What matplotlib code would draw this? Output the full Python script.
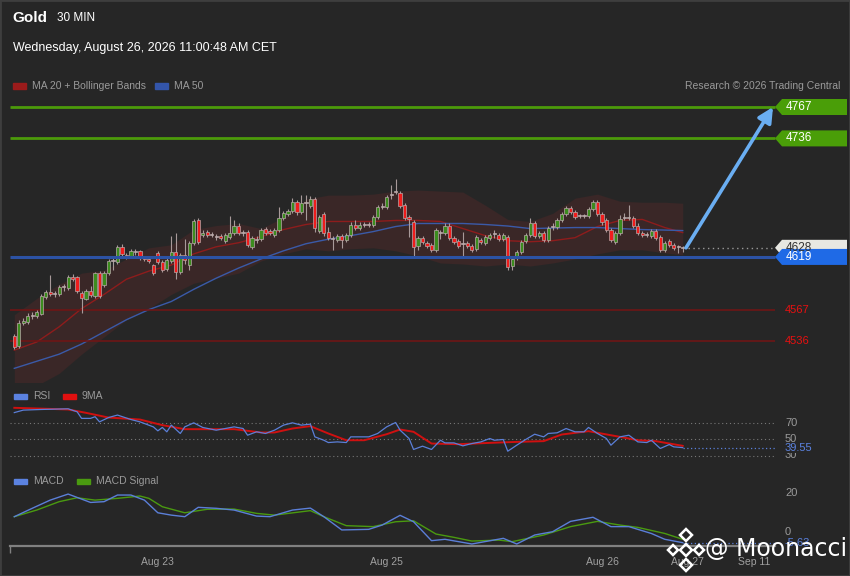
import matplotlib
matplotlib.use('Agg')
import matplotlib.pyplot as plt
from matplotlib.patches import Polygon, Rectangle
import numpy as np

plt.rcParams['font.family'] = ['Liberation Sans', 'DejaVu Sans']

# ---- candles (30 min) ----
opens = [4541, 4531, 4554, 4555, 4561, 4561, 4563, 4579, 4584, 4583,
         4582, 4589, 4588, 4599, 4599, 4583, 4577, 4585, 4580, 4603,
         4591, 4603, 4615, 4614, 4629, 4621, 4620, 4624, 4625, 4619,
         4617, 4611, 4623, 4614, 4607, 4615, 4624, 4604, 4621, 4611,
         4633, 4655, 4641, 4644, 4641, 4640, 4640, 4635, 4639, 4643,
         4650, 4643, 4644, 4629, 4637, 4637, 4647, 4645, 4641, 4646,
         4657, 4661, 4664, 4673, 4663, 4672, 4669, 4676, 4645, 4661,
         4644, 4638, 4636, 4640, 4636, 4641, 4651, 4648, 4651, 4651,
         4651, 4658, 4668, 4668, 4680, 4683, 4682, 4670, 4658, 4653,
         4630, 4638, 4633, 4631, 4626, 4643, 4643, 4650, 4638, 4635,
         4632, 4633, 4630, 4627, 4636, 4633, 4638, 4642, 4641, 4637,
         4639, 4610, 4618, 4624, 4635, 4641, 4652, 4640, 4643, 4636,
         4649, 4649, 4655, 4661, 4667, 4663, 4659, 4659, 4659, 4666,
         4673, 4661, 4655, 4646, 4634, 4643, 4657, 4657, 4657, 4650,
         4643, 4641, 4640, 4645, 4639, 4626, 4635, 4631, 4629, 4628]
closes = [4530, 4554, 4556, 4561, 4562, 4565, 4580, 4584, 4582, 4582,
          4589, 4589, 4599, 4597, 4585, 4578, 4585, 4581, 4603, 4580,
          4603, 4615, 4615, 4629, 4622, 4619, 4625, 4624, 4618, 4617,
          4615, 4603, 4614, 4606, 4616, 4624, 4604, 4621, 4616, 4633,
          4654, 4634, 4643, 4641, 4642, 4639, 4638, 4641, 4643, 4650,
          4643, 4644, 4631, 4638, 4636, 4646, 4643, 4643, 4646, 4657,
          4662, 4664, 4673, 4663, 4672, 4672, 4676, 4648, 4658, 4643,
          4638, 4637, 4640, 4636, 4641, 4651, 4648, 4651, 4651, 4651,
          4658, 4668, 4669, 4678, 4681, 4684, 4669, 4657, 4656, 4629,
          4638, 4634, 4630, 4626, 4646, 4643, 4650, 4638, 4634, 4630,
          4632, 4630, 4626, 4639, 4634, 4639, 4641, 4642, 4637, 4641,
          4609, 4617, 4624, 4634, 4641, 4652, 4640, 4643, 4636, 4648,
          4649, 4655, 4661, 4667, 4663, 4658, 4659, 4659, 4666, 4673,
          4661, 4653, 4646, 4636, 4643, 4656, 4658, 4658, 4650, 4643,
          4641, 4642, 4645, 4638, 4626, 4633, 4631, 4628, 4629, 4628]
highs = [4543, 4557, 4559, 4564, 4565, 4567, 4582, 4586, 4601, 4585,
         4591, 4592, 4601, 4602, 4600, 4585, 4587, 4590, 4604, 4605,
         4605, 4617, 4618, 4631, 4632, 4623, 4627, 4627, 4626, 4620,
         4619, 4612, 4625, 4616, 4618, 4640, 4643, 4623, 4637, 4635,
         4656, 4657, 4646, 4646, 4644, 4642, 4642, 4643, 4659, 4655,
         4652, 4646, 4646, 4640, 4640, 4648, 4649, 4647, 4648, 4668,
         4664, 4666, 4677, 4675, 4680, 4680, 4679, 4678, 4660, 4663,
         4649, 4640, 4642, 4642, 4643, 4653, 4655, 4653, 4653, 4653,
         4660, 4670, 4672, 4680, 4690, 4696, 4684, 4672, 4660, 4655,
         4640, 4640, 4635, 4633, 4648, 4646, 4652, 4652, 4640, 4637,
         4644, 4635, 4632, 4641, 4638, 4641, 4643, 4646, 4643, 4643,
         4641, 4619, 4626, 4636, 4643, 4657, 4654, 4645, 4645, 4650,
         4652, 4657, 4663, 4669, 4669, 4665, 4661, 4661, 4668, 4675,
         4675, 4663, 4657, 4648, 4645, 4660, 4662, 4670, 4659, 4652,
         4645, 4644, 4647, 4647, 4641, 4635, 4637, 4633, 4631, 4630]
lows = [4528, 4529, 4552, 4553, 4558, 4559, 4562, 4577, 4580, 4579,
        4580, 4585, 4586, 4595, 4583, 4564, 4576, 4579, 4578, 4578,
        4589, 4601, 4606, 4612, 4620, 4617, 4618, 4621, 4616, 4615,
        4613, 4601, 4612, 4604, 4605, 4613, 4597, 4602, 4612, 4606,
        4631, 4632, 4639, 4639, 4639, 4636, 4636, 4633, 4637, 4641,
        4641, 4640, 4629, 4627, 4633, 4635, 4641, 4641, 4639, 4644,
        4655, 4659, 4662, 4660, 4661, 4655, 4667, 4644, 4643, 4640,
        4636, 4626, 4634, 4628, 4634, 4639, 4646, 4646, 4649, 4649,
        4649, 4656, 4666, 4666, 4676, 4681, 4667, 4655, 4639, 4620,
        4626, 4632, 4628, 4624, 4624, 4637, 4641, 4636, 4632, 4628,
        4620, 4628, 4624, 4625, 4632, 4631, 4636, 4638, 4635, 4635,
        4606, 4606, 4616, 4622, 4633, 4639, 4638, 4638, 4634, 4634,
        4646, 4647, 4653, 4659, 4661, 4656, 4657, 4657, 4657, 4664,
        4659, 4651, 4644, 4634, 4632, 4641, 4655, 4655, 4648, 4641,
        4639, 4639, 4638, 4636, 4624, 4624, 4629, 4626, 4623, 4624]

# ---- moving averages / bands (sampled every 5 candles) ----
band_idx = [0, 5, 10, 15, 20, 25, 30, 35, 40, 45, 50, 55, 60, 65, 70, 75,
            80, 85, 90, 95, 100, 105, 110, 115, 120, 125, 130, 135, 140, 145, 149]
ma20 = [4527, 4535, 4550, 4568, 4582, 4597, 4605, 4611, 4622, 4629, 4633,
        4639, 4646, 4651, 4654, 4654, 4654, 4655, 4655, 4654, 4647, 4640,
        4635, 4634, 4635, 4638, 4649, 4655, 4656, 4648, 4643]
bb_upper = [4562, 4578, 4592, 4603, 4606, 4617, 4628, 4631, 4646, 4650, 4652,
            4647, 4658, 4676, 4680, 4680, 4681, 4684, 4685, 4684, 4683, 4670,
            4656, 4654, 4662, 4677, 4681, 4674, 4673, 4673, 4672]
bb_lower = [4492, 4492, 4504, 4523, 4540, 4557, 4568, 4582, 4593, 4598, 4603,
            4615, 4622, 4627, 4625, 4627, 4628, 4625, 4620, 4613, 4612, 4610,
            4612, 4610, 4613, 4617, 4622, 4626, 4626, 4623, 4621]
ma50 = [4509, 4516, 4523, 4533, 4545, 4557, 4567, 4575, 4587, 4598, 4608,
        4617, 4625, 4632, 4636.5, 4640, 4644, 4649, 4652, 4652, 4652, 4651,
        4649.5, 4647, 4647.5, 4648, 4648, 4647, 4646, 4645.5, 4645]

# ---- levels ----
resist_levels = [4767, 4736]
pivot_level = 4619
support_levels = [4567, 4536]
last_price = 4628

# ---- RSI ----
rsi_idx = [0, 2, 6, 12, 14, 15, 17, 18, 19, 21, 23, 26, 28, 31, 32, 33, 34, 35,
           37, 38, 40, 42, 45, 49, 51, 52, 54, 56, 58, 60, 62, 64, 66, 67, 69,
           70, 72, 74, 75, 79, 81, 83, 85, 86, 88, 89, 91, 93, 95, 96, 98, 100,
           102, 104, 106, 107, 109, 110, 112, 114, 116, 118, 119, 121, 123, 125,
           127, 128, 130, 132, 133, 135, 137, 139, 141, 142, 144, 146, 147, 149]
rsi = [82, 85, 85.8, 86.6, 83, 75, 75, 77, 70.8, 76, 79, 73.6, 70.8, 64.7,
       59.9, 64, 58.7, 66.8, 56.7, 64.7, 69.6, 64, 60.7, 64.7, 62.7, 54.6,
       58.7, 56.7, 60.7, 66.8, 69.6, 66.8, 68, 52.6, 48.5, 45.7, 46.5, 45.7,
       52.6, 52.6, 56.7, 64.7, 70, 60.7, 50.6, 37.3, 41.3, 37.3, 48.5, 45.3,
       45.3, 41.7, 44.5, 46.5, 50.6, 48.5, 49.4, 35.2, 42.5, 49.4, 55.8, 52.6,
       56.7, 57.5, 62.7, 58.7, 58.7, 64, 56.7, 50.6, 42.5, 52.6, 54.6, 46.5,
       45.7, 48.5, 38.5, 43.3, 40.5, 39.55]
rsi_ma_idx = [0, 12, 16, 21, 28, 33, 38, 43, 49, 55, 58, 62, 66, 70, 74, 78,
              83, 86, 89, 93, 99, 106, 112, 118, 122, 128, 135, 139, 143, 149]
rsi_ma = [87.8, 85.8, 81.7, 76, 73.6, 66.8, 61.9, 61.9, 61.9, 57.9, 57.9,
          62.7, 65.6, 56.7, 48.5, 48.5, 55.8, 61.5, 58.7, 44.5, 43.7, 45.3,
          46.5, 47.4, 55.4, 59.5, 52.6, 48.5, 47.4, 41.7]

# ---- MACD ----
macd_idx = [0, 4, 8, 12, 17, 20, 23, 26, 29, 32, 35, 38, 41, 45, 49, 54, 57,
            62, 66, 69, 73, 79, 82, 86, 89, 93, 96, 102, 109, 112, 116, 120,
            124, 129, 133, 137, 142, 145, 149]
macd = [7.7, 12, 16.2, 19.3, 15, 15.4, 18.8, 18.8, 16.2, 9.7, 8.5, 7.7, 12.5,
        12, 11.1, 8, 7.7, 11.1, 12.1, 7.7, 0.9, 1.2, 3.4, 8.4, 5.1, -4.6,
        -3.9, -6.3, -3.4, -6.3, -1.7, 0, 5.3, 7.4, 2.6, 2.6, -0.9, -3.9, -5.63]
signal_idx = [0, 5, 10, 14, 18, 23, 28, 30, 33, 38, 43, 49, 54, 58, 66, 69,
              74, 80, 85, 89, 94, 98, 102, 108, 111, 118, 124, 130, 135, 139,
              145, 149]
macd_signal = [7.7, 11.1, 15.4, 17.4, 16.2, 17.1, 18.3, 17.1, 12.8, 9.7, 11.5,
               11.6, 9.4, 8.5, 10.8, 7.7, 3.1, 2.6, 5.1, 5.6, -1.2, -2.9, -4.8,
               -4.3, -5.1, -1.7, 2.6, 5.3, 3.4, 2.2, -0.9, -3.9]

date_ticks = [32, 83, 131, 150, 165]
date_labels = ['Aug 23', 'Aug 25', 'Aug 26', 'Aug 27', 'Sep 11']

# ---------------------------------------------------------------------
W, H = 850, 576
BG = '#262626'


def px2i(px):
    return (px - 14.3) / 4.486


def price_at(py):
    return 4767 - (py - 107) / 1.013


def fx(px):
    return px / W


def fy(py):
    return 1 - py / H


fig = plt.figure(figsize=(W / 100, H / 100), dpi=100, facecolor=BG)


def panel(top, bottom):
    a = fig.add_axes([0, fy(bottom), 1, (bottom - top) / H])
    a.set_facecolor('none')
    a.set_xlim(px2i(0), px2i(W))
    for s in a.spines.values():
        s.set_visible(False)
    a.set_xticks([])
    a.set_yticks([])
    return a


def tag(a, level, text, face, tcolor):
    x0, x1, x2 = px2i(775), px2i(782), px2i(847)
    h = 8 / 1.013
    poly = Polygon([(x0, level), (x1, level + h), (x2, level + h),
                    (x2, level - h), (x1, level - h)], closed=True,
                   facecolor=face, edgecolor='none', clip_on=False, zorder=6)
    a.add_patch(poly)
    a.text(px2i(786), level, text, color=tcolor, fontsize=8.5, va='center',
           ha='left', zorder=7, clip_on=False)


def legend_item(px, py, color, label):
    fig.patches.append(Rectangle((fx(px), fy(py + 2.5)), 13 / W, 5 / H,
                                 transform=fig.transFigure, color=color))
    fig.text(fx(px + 19), fy(py), label, color='#9a9a9a', fontsize=7.5,
             va='center', ha='left')


# ---- header ----
fig.text(fx(12), fy(18), 'Gold', color='white', fontsize=11,
         fontweight='bold', va='center')
fig.text(fx(57), fy(18), '30 MIN', color='white', fontsize=8.5, va='center')
fig.text(fx(13), fy(48), 'Wednesday, August 26, 2026 11:00:48 AM CET',
         color='white', fontsize=9, va='center')
legend_item(13, 86, '#9b1b1b', 'MA 20 + Bollinger Bands')
legend_item(155, 86, '#3355aa', 'MA 50')
fig.text(fx(840), fy(86), 'Research \u00a9 2026 Trading Central',
         color='#9a9a9a', fontsize=7.5, va='center', ha='right')

# ---- price panel ----
ax = panel(92, 382)
ax.set_ylim(price_at(382), price_at(92))

ax.fill_between(band_idx, bb_lower, bb_upper, color='#3a2727', lw=0, zorder=1)
ax.plot(band_idx, ma20, color='#8e1c1c', lw=1, zorder=2)
ax.plot(band_idx, ma50, color='#3a5aa8', lw=1, zorder=2)

xl, xr = px2i(10), px2i(775)
ax.hlines(resist_levels, xl, xr, color='#4c9a0a', lw=2, zorder=3)
ax.hlines(support_levels, xl, xr, color='#6e1616', lw=1.2, zorder=3)

idx = np.arange(len(opens))
o = np.array(opens, float)
c = np.array(closes, float)
up = c >= o
ax.vlines(idx, lows, highs, color='#a89a9a', lw=0.8, zorder=4)
bottom = np.minimum(o, c)
height = np.maximum(np.abs(c - o), 0.9)
body_col = np.where(up, '#3c8c1e', '#f01c1c')
body_col = np.where(np.abs(c - o) < 1.5, '#c8b8b8', body_col)
ax.bar(idx, height, bottom=bottom, width=0.72, color=body_col,
       edgecolor='#b8a8a8', linewidth=0.5, zorder=5)

ax.hlines(pivot_level, xl, xr, color='#2c52a4', lw=2.2, zorder=5)
ax.hlines(last_price, idx[-1] + 1.2, xr, color='#9a9a9a', lw=1,
          linestyles=(0, (1, 2.5)), zorder=3)

ax.annotate('', xy=(px2i(773), resist_levels[0]),
            xytext=(px2i(686), last_price),
            arrowprops=dict(arrowstyle='-|>,head_length=0.9,head_width=0.45',
                            color='#6aaef2', lw=2.6, shrinkA=0, shrinkB=0),
            zorder=8, annotation_clip=False)

tag(ax, resist_levels[0], str(resist_levels[0]), '#4a9e08', 'white')
tag(ax, resist_levels[1], str(resist_levels[1]), '#4a9e08', 'white')
tag(ax, last_price, str(last_price), '#e8e8e2', '#333333')
tag(ax, pivot_level, str(pivot_level), '#1f6ae6', 'white')
for lv in support_levels:
    ax.text(px2i(785), lv, str(lv), color='#e81010', fontsize=8,
            va='center', ha='left', clip_on=False)

# ---- RSI panel ----
legend_item(14, 396, '#5b82e0', 'RSI')
legend_item(63, 396, '#e01010', '9MA')
rax = panel(400, 462)
rax.set_ylim(50 - (462 - 439) / 0.825, 50 - (400 - 439) / 0.825)
rax.hlines([70, 50, 30], xl, xr, color='#777777', lw=0.8,
           linestyles=(0, (1, 2.5)))
rax.plot(rsi_idx, rsi, color='#5b7fd8', lw=0.9, zorder=3)
rax.plot(rsi_ma_idx, rsi_ma, color='#d01010', lw=1.4, zorder=2)
rax.hlines(rsi[-1], rsi_idx[-1], xr, color='#5b7fd8', lw=0.9,
           linestyles=(0, (1, 2)))
for v in (70, 50, 30):
    rax.text(px2i(785), v, str(v), color='#9a9a9a', fontsize=8,
             va='center', ha='left', clip_on=False)
rax.text(px2i(785), rsi[-1], f'{rsi[-1]:.2f}', color='#5b82e0', fontsize=8,
         va='center', ha='left', clip_on=False,
         bbox=dict(facecolor=BG, edgecolor='none', pad=0.6))

# ---- MACD panel ----
legend_item(14, 481, '#5b82e0', 'MACD')
legend_item(77, 481, '#4a9a10', 'MACD Signal')
max_ = panel(485, 546)
max_.set_ylim((531.7 - 546) / 1.95, (531.7 - 485) / 1.95)
max_.plot(signal_idx, macd_signal, color='#4a9a10', lw=1, zorder=2)
max_.plot(macd_idx, macd, color='#5b7fd8', lw=1, zorder=3)
max_.hlines(macd[-1], macd_idx[-1], xr, color='#5b7fd8', lw=0.9,
            linestyles=(0, (1, 2)))
for v in (20, 0):
    max_.text(px2i(785), v, str(v), color='#9a9a9a', fontsize=8,
              va='center', ha='left', clip_on=False)
max_.text(px2i(785), macd[-1], f'{macd[-1]:.2f}', color='#5b82e0',
          fontsize=8, va='center', ha='left', clip_on=False,
          bbox=dict(facecolor=BG, edgecolor='none', pad=0.6))

# time axis
max_.spines['bottom'].set_visible(True)
max_.spines['bottom'].set_color('#808080')
max_.spines['bottom'].set_linewidth(1.6)
max_.spines['bottom'].set_bounds(px2i(10), px2i(775))
max_.set_xticks(date_ticks, date_labels)
max_.tick_params(axis='x', length=0, pad=8, labelsize=7.5, colors='#a0a0a0')
max_.set_xticks([px2i(10)], minor=True)
max_.tick_params(axis='x', which='minor', length=5, width=1, color='#808080')

# ---- watermark ----
def diamond(cx, cy, r):
    return Polygon([(fx(cx), fy(cy - r)), (fx(cx + r), fy(cy)),
                    (fx(cx), fy(cy + r)), (fx(cx - r), fy(cy))], closed=True,
                   transform=fig.transFigure, fill=False, edgecolor='white',
                   lw=1.8, zorder=10)


for cx, cy, r in [(686, 550, 6), (686, 535, 6), (686, 565, 6),
                  (673, 550, 5), (699, 550, 5)]:
    fig.patches.append(diamond(cx, cy, r))
fig.text(fx(705), fy(549), '@ Moonacci', color='white', fontsize=17,
         va='center', ha='left', family=['DejaVu Sans'], zorder=10)

fig.patches.append(Rectangle((0, 0), 1, 1, transform=fig.transFigure,
                             fill=False, edgecolor='#3e3e3e', lw=2))

fig.savefig('out.png', dpi=100, facecolor=BG)
